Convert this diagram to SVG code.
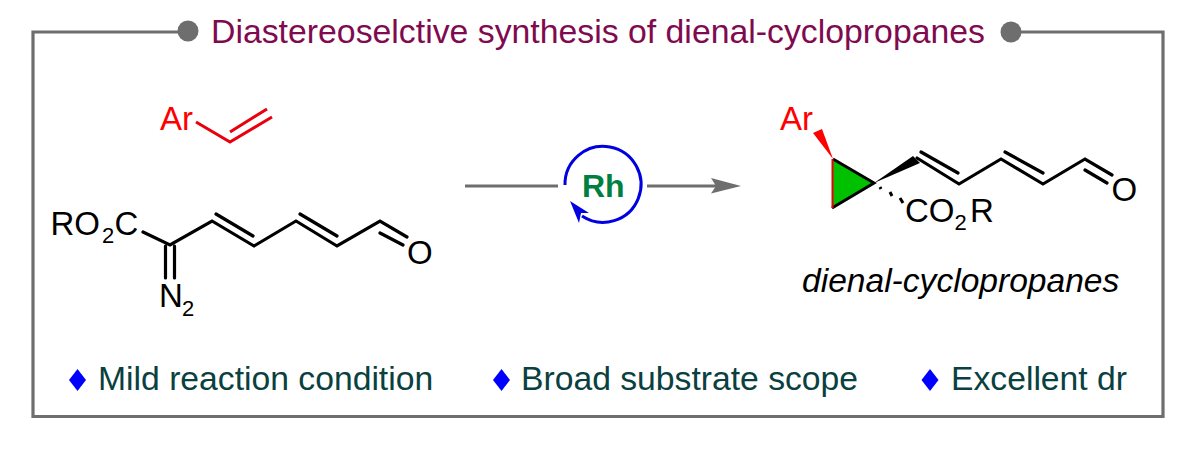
<svg xmlns="http://www.w3.org/2000/svg" width="1199" height="449" viewBox="0 0 1199 449">
<style>
text{font-family:"Liberation Sans",Arial,sans-serif}
.atom{font-size:33px;fill:#000}
.sub{font-size:22px;fill:#000}
.red{fill:#f00}
.b{fill:none;stroke:#000;stroke-width:3.2;stroke-linecap:round;stroke-linejoin:miter}
.r{fill:none;stroke:#e8000c;stroke-width:3;stroke-linejoin:miter}
.g{fill:none;stroke:#6e6e6e;stroke-width:3.2}
.bul{font-size:33.7px;fill:#0a4040}
.dia{fill:#0000ff}
</style>
<rect width="1199" height="449" fill="#fff"/>
<g id="frame">
<path class="g" d="M188 32H33V416.500H1163V32H1011"/>
<circle cx="188" cy="31" r="10.500" fill="#6e6e6e"/>
<circle cx="1011" cy="32" r="10.500" fill="#6e6e6e"/>
</g>
<text id="title" x="211" y="43" font-size="33.800" fill="#7f0a4f">Diastereoselctive synthesis of dienal-cyclopropanes</text>
<g id="styrene">
<text class="atom red" x="160" y="130">Ar</text>
<path class="r" d="M196 122L230 142L272 117M230 132L267 109"/>
</g>
<g id="diazo">
<text class="atom" x="50.500" y="235">RO</text>
<text class="sub" x="102" y="243">2</text>
<text class="atom" x="114.500" y="235">C</text>
<path class="b" d="M143 232L170 245L212 221L254 246L296 221L337 246L380 221L407 237M380 233L403 245M216 214L253 236M300 214L337 236M165.500 246V278M174.500 246V278"/>
<text class="atom" x="407" y="263.500">O</text>
<text class="atom" x="159" y="307">N</text>
<text class="sub" x="182" y="316">2</text>
</g>
<g id="catalyst">
<path d="M565 185A38 38 0 1 1 582 216" fill="none" stroke="#0000e0" stroke-width="3"/>
<path d="M570 201L589 213L581 213L579 223Z" fill="#0000e0"/>
<text x="582" y="197" font-size="32" font-weight="bold" fill="#008040">Rh</text>
</g>
<g id="connectors">
<path class="g" d="M465 186H558M647 186H722"/>
<path d="M741 186L711 178L716 186L711 193.500Z" fill="#6e6e6e"/>
</g>
<g id="product">
<path d="M833 159L874 183L832 208Z" fill="#00c000"/>
<path d="M833 159L874 183L832 208" fill="none" stroke="#000" stroke-width="3"/>
<path d="M832.500 159V208" fill="none" stroke="#e8000c" stroke-width="2"/>
<path d="M833 159L813 133L822 129Z" fill="#f00"/>
<text class="atom red" x="780" y="130">Ar</text>
<path d="M874 183L913 156L920 163Z" fill="#000"/>
<path class="b" d="M917 158L959 184L1001 159L1043 184L1085 159L1112 175M1085 170L1107 183M921 152L958 173M1005 152L1043 173"/>
<path d="M880 187L881 189M890 192L892 196M900 198L903 203" stroke="#000" stroke-width="3" fill="none"/>
<text class="atom" x="905" y="222">CO</text>
<text class="sub" x="954.500" y="230">2</text>
<text class="atom" x="970" y="222">R</text>
<text class="atom" x="1111.500" y="200.500">O</text>
<text x="802" y="292" font-size="33.600" font-style="italic" fill="#000">dienal-cyclopropanes</text>
</g>
<g id="bullets">
<path class="dia" d="M77.500 369L86 380L77.500 391L69 380Z"/>
<text class="bul" x="98" y="390">Mild reaction condition</text>
<path class="dia" d="M501.500 369L510 380L501.500 391L493 380Z"/>
<text class="bul" x="521" y="390">Broad substrate scope</text>
<path class="dia" d="M930 369L938.500 380L930 391L921.500 380Z"/>
<text class="bul" x="951" y="390">Excellent dr</text>
</g>
</svg>
